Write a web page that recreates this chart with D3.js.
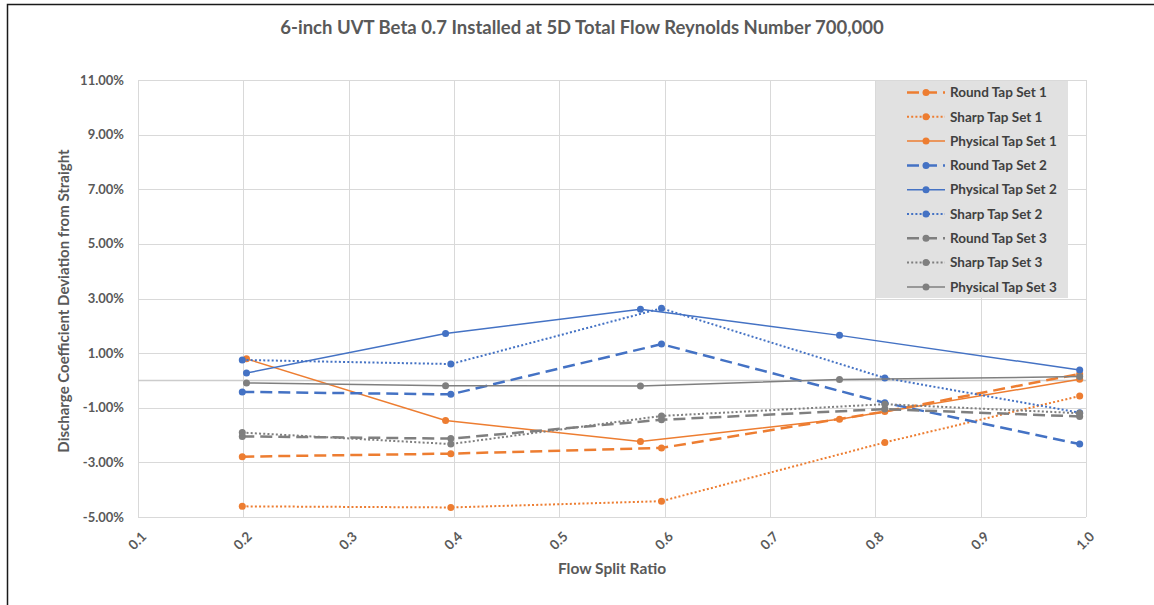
<!DOCTYPE html>
<html>
<head>
<meta charset="utf-8">
<script src="https://cdn.jsdelivr.net/npm/d3@7"></script>
<style>
  body { margin: 0; background: #fff; }
  text { font-family: Lato, "Open Sans", sans-serif; font-weight: bold; }
</style>
</head>
<body>
<div id="chart"></div>
<script>
// x positions (flow split ratio) - physical taps sit a bit left of the others
var xPhysical = [0.203, 0.392, 0.577, 0.766, 0.994];
var xTaps = [0.199, 0.397, 0.597, 0.809, 0.994];

// discharge coefficient deviation, %
var round1 = [-2.79, -2.68, -2.47, -1.14, 0.24];
var sharp1 = [-4.61, -4.65, -4.42, -2.27, -0.57];
var physical1 = [0.79, -1.47, -2.24, -1.42, 0.04];
var round2 = [-0.42, -0.51, 1.33, -0.82, -2.33];
var physical2 = [0.27, 1.72, 2.61, 1.65, 0.38];
var sharp2 = [0.75, 0.60, 2.64, 0.09, -1.18];
var round3 = [-2.05, -2.13, -1.44, -1.05, -1.32];
var sharp3 = [-1.91, -2.33, -1.30, -0.87, -1.20];
var physical3 = [-0.09, -0.19, -0.20, 0.03, 0.14];

var xTicks = [0.1, 0.2, 0.3, 0.4, 0.5, 0.6, 0.7, 0.8, 0.9, 1.0];
var yTicks = [-5, -3, -1, 1, 3, 5, 7, 9, 11];

var orange = "#ED7D31", blue = "#4472C4", grey = "#7F7F7F";

var series = [
  {name: "Round Tap Set 1", x: xTaps, y: round1, color: orange, style: "dash"},
  {name: "Sharp Tap Set 1", x: xTaps, y: sharp1, color: orange, style: "dot"},
  {name: "Physical Tap Set 1", x: xPhysical, y: physical1, color: orange, style: "solid"},
  {name: "Round Tap Set 2", x: xTaps, y: round2, color: blue, style: "dash"},
  {name: "Physical Tap Set 2", x: xPhysical, y: physical2, color: blue, style: "solid"},
  {name: "Sharp Tap Set 2", x: xTaps, y: sharp2, color: blue, style: "dot"},
  {name: "Round Tap Set 3", x: xTaps, y: round3, color: grey, style: "dash"},
  {name: "Sharp Tap Set 3", x: xTaps, y: sharp3, color: grey, style: "dot"},
  {name: "Physical Tap Set 3", x: xPhysical, y: physical3, color: grey, style: "solid"}
];

var lineStyle = {
  dash: {w: 2.5, dash: "12,6"},
  dot: {w: 2, dash: "2,2.2"},
  solid: {w: 1.5, dash: null}
};

var width = 1154, height = 605;
var plot = {left: 138, right: 1086, top: 80, bottom: 517};

var svg = d3.select("#chart").append("svg")
  .attr("width", width)
  .attr("height", height);

// outer frame (cropped on right & bottom)
svg.append("path")
  .attr("d", "M7.5," + height + " V4.5 H" + width)
  .attr("fill", "none")
  .attr("stroke", "#1a1a1a")
  .attr("stroke-width", 1.5);

var x = d3.scaleLinear().domain([0.1, 1.0]).range([plot.left, plot.right]);
var y = d3.scaleLinear().domain([-5, 11]).range([plot.bottom, plot.top]);

// gridlines
svg.append("g").selectAll("line")
  .data(yTicks)
  .enter().append("line")
  .attr("x1", plot.left).attr("x2", plot.right)
  .attr("y1", function(d) { return Math.round(y(d)) + 0.5; })
  .attr("y2", function(d) { return Math.round(y(d)) + 0.5; })
  .attr("stroke", "#d9d9d9").attr("stroke-width", 1);

svg.append("g").selectAll("line")
  .data(xTicks)
  .enter().append("line")
  .attr("y1", plot.top).attr("y2", plot.bottom)
  .attr("x1", function(d) { return Math.round(x(d)) + 0.5; })
  .attr("x2", function(d) { return Math.round(x(d)) + 0.5; })
  .attr("stroke", "#d9d9d9").attr("stroke-width", 1);

// horizontal axis line at zero
svg.append("line")
  .attr("x1", plot.left).attr("x2", plot.right)
  .attr("y1", y(0)).attr("y2", y(0))
  .attr("stroke", "#cccccc").attr("stroke-width", 1.5);

// y tick labels
svg.append("g").selectAll("text")
  .data(yTicks)
  .enter().append("text")
  .attr("x", 124)
  .attr("y", function(d) { return y(d); })
  .attr("dy", "0.35em")
  .attr("text-anchor", "end")
  .attr("font-size", 13)
  .attr("fill", "#595959")
  .text(function(d) { return d.toFixed(2) + "%"; });

// x tick labels, rotated
svg.append("g").selectAll("text")
  .data(xTicks)
  .enter().append("text")
  .attr("transform", function(d) { return "translate(" + (x(d) + 6) + "," + 534 + ") rotate(-45)"; })
  .attr("text-anchor", "end")
  .attr("dy", "0.35em")
  .attr("font-size", 13.5)
  .attr("fill", "#595959")
  .text(function(d) { return d.toFixed(1); });

// titles
svg.append("text")
  .attr("x", 582).attr("y", 34)
  .attr("text-anchor", "middle")
  .attr("font-size", 18.5)
  .attr("fill", "#595959")
  .text("6-inch UVT Beta 0.7 Installed at 5D Total Flow Reynolds Number 700,000");

svg.append("text")
  .attr("x", 612).attr("y", 574)
  .attr("text-anchor", "middle")
  .attr("font-size", 15.5)
  .attr("fill", "#595959")
  .text("Flow Split Ratio");

svg.append("text")
  .attr("transform", "translate(69,301) rotate(-90)")
  .attr("text-anchor", "middle")
  .attr("font-size", 15)
  .attr("fill", "#595959")
  .text("Discharge Coefficient Deviation from Straight");

// series lines and markers
var line = d3.line()
  .x(function(d) { return x(d.x); })
  .y(function(d) { return y(d.y); });

series.forEach(function(s) {
  var pts = s.x.map(function(v, i) { return {x: v, y: s.y[i]}; });
  var st = lineStyle[s.style];
  var g = svg.append("g");
  g.append("path")
    .datum(pts)
    .attr("fill", "none")
    .attr("stroke", s.color)
    .attr("stroke-width", st.w)
    .attr("stroke-dasharray", st.dash)
    .attr("d", line);
  g.selectAll("circle")
    .data(pts)
    .enter().append("circle")
    .attr("cx", function(d) { return x(d.x); })
    .attr("cy", function(d) { return y(d.y); })
    .attr("r", 3.5)
    .attr("fill", s.color);
});

// legend
var legend = svg.append("g");
legend.append("rect")
  .attr("x", 876).attr("y", 81)
  .attr("width", 192).attr("height", 217)
  .attr("fill", "#e1e1e1");

var item = legend.selectAll("g.item")
  .data(series)
  .enter().append("g")
  .attr("class", "item")
  .attr("transform", function(d, i) { return "translate(0," + (92.5 + i * 24.3) + ")"; });

item.append("line")
  .attr("x1", 907).attr("x2", 945)
  .attr("stroke", function(d) { return d.color; })
  .attr("stroke-width", function(d) { return lineStyle[d.style].w; })
  .attr("stroke-dasharray", function(d) { return lineStyle[d.style].dash; });

item.append("circle")
  .attr("cx", 926).attr("r", 3.5)
  .attr("fill", function(d) { return d.color; });

item.append("text")
  .attr("x", 950)
  .attr("dy", "0.35em")
  .attr("font-size", 13.5)
  .attr("fill", "#404040")
  .text(function(d) { return d.name; });
</script>
</body>
</html>
